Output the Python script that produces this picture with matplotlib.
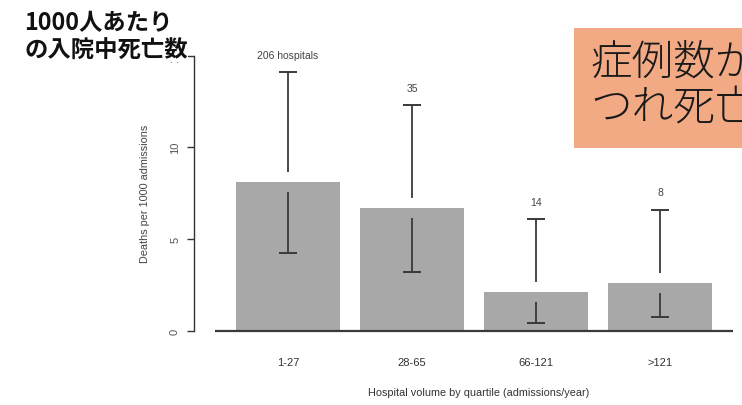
import matplotlib
matplotlib.use("Agg")
import matplotlib.pyplot as plt
from matplotlib.patches import Rectangle
import numpy as np

# ---- data ----
categories = ["1-27", "28-65", "66-121", ">121"]
rates = [8.1, 6.68, 2.09, 2.6]
ci_low = [4.22, 3.22, 0.40, 0.73]
ci_high = [14.1, 12.31, 6.09, 6.6]
hospital_counts = ["206 hospitals", "35", "14", "8"]
yticks = [0, 5, 10, 15]
ylabel = "Deaths per 1000 admissions"
xlabel = "Hospital volume by quartile (admissions/year)"
jp_label = "1000人あたり\nの入院中死亡数"
box_lines = ["症例数が", "つれ死亡"]

W, H = 742, 406
fig = plt.figure(figsize=(W / 100, H / 100), dpi=100)
fig.patch.set_facecolor("white")

ax_left, ax_right = 194, 742
y0_px, y15_px = 331.7, 56.6
ax = fig.add_axes([ax_left / W, (H - y0_px) / H, (ax_right - ax_left) / W, (y0_px - y15_px) / H])

x = np.arange(len(categories))
r = np.array(rates)
lo = np.array(ci_low)
hi = np.array(ci_high)

ax.bar(x, r, width=0.84, color="#a8a8a8", edgecolor="none", zorder=2)

gap = 0.55
ecol = "#3a3a3a"
ax.vlines(x, r + gap, hi, color=ecol, lw=1.3, zorder=3)
ax.vlines(x, lo, r - gap, color=ecol, lw=1.3, zorder=3)
ax.plot(x, hi, ls="none", marker="_", ms=13, mew=1.4, color=ecol, zorder=3)
ax.plot(x, lo, ls="none", marker="_", ms=13, mew=1.4, color=ecol, zorder=3)

for xi, h, lab in zip(x, hi, hospital_counts):
    ax.annotate(lab, (xi, h), xytext=(0, 12.5), textcoords="offset points",
                ha="center", va="center", fontsize=7.5, color="#444444",
                family="Liberation Sans", annotation_clip=False)

ax.set_xlim(-0.758, 3.661)
ax.set_ylim(0, 15)
ax.hlines(0, -0.59, 3.59, color="#3a3a3a", lw=1.6, zorder=4, clip_on=False)

for s in ["top", "right", "bottom"]:
    ax.spines[s].set_visible(False)
ax.spines["left"].set_bounds(0, 15)
ax.spines["left"].set_color("#333333")
ax.spines["left"].set_linewidth(1.0)

ax.set_yticks(yticks)
ax.set_yticklabels([str(t) for t in yticks], rotation=90, va="center",
                   family="Liberation Sans", fontsize=8, color="#555555")
ax.tick_params(axis="y", length=5, width=1.0, color="#333333", pad=5)
ax.set_xticks(x)
ax.set_xticklabels(categories, family="Liberation Sans", fontsize=8, color="#333333")
ax.tick_params(axis="x", length=0, pad=19)

ax.set_ylabel(ylabel, family="Liberation Sans", fontsize=7.8, color="#444444")
ax.yaxis.set_label_coords((150.5 - ax_left) / (ax_right - ax_left), 0.5)
ax.set_xlabel(xlabel, family="Liberation Sans", fontsize=7.8, color="#333333")
ax.xaxis.set_label_coords((478.5 - ax_left) / (ax_right - ax_left), -0.206)
ax.patch.set_alpha(0)

# Japanese label top-left
fig.text(24 / W, 1 - 11 / H, jp_label, ha="left", va="top", fontsize=16.8,
         fontweight="bold", family=["Noto Sans CJK JP", "DejaVu Sans"],
         linespacing=1.18, color="#111111",
         bbox=dict(facecolor="white", edgecolor="none", pad=0.5))

# salmon box top-right
fig.patches.append(Rectangle((574 / W, (H - 149) / H), (W - 574) / W + 0.02, (149 - 29) / H,
                             transform=fig.transFigure, facecolor="#F2AA84",
                             edgecolor="none", zorder=1))
for i, line in enumerate(box_lines):
    fig.text(590 / W, 1 - (63 + 45 * i) / H, line, ha="left", va="center",
             fontsize=30, fontweight="light", family=["Noto Sans CJK JP", "DejaVu Sans"],
             color="#1a1a1a", zorder=2)

fig.savefig("out.png", dpi=100)
